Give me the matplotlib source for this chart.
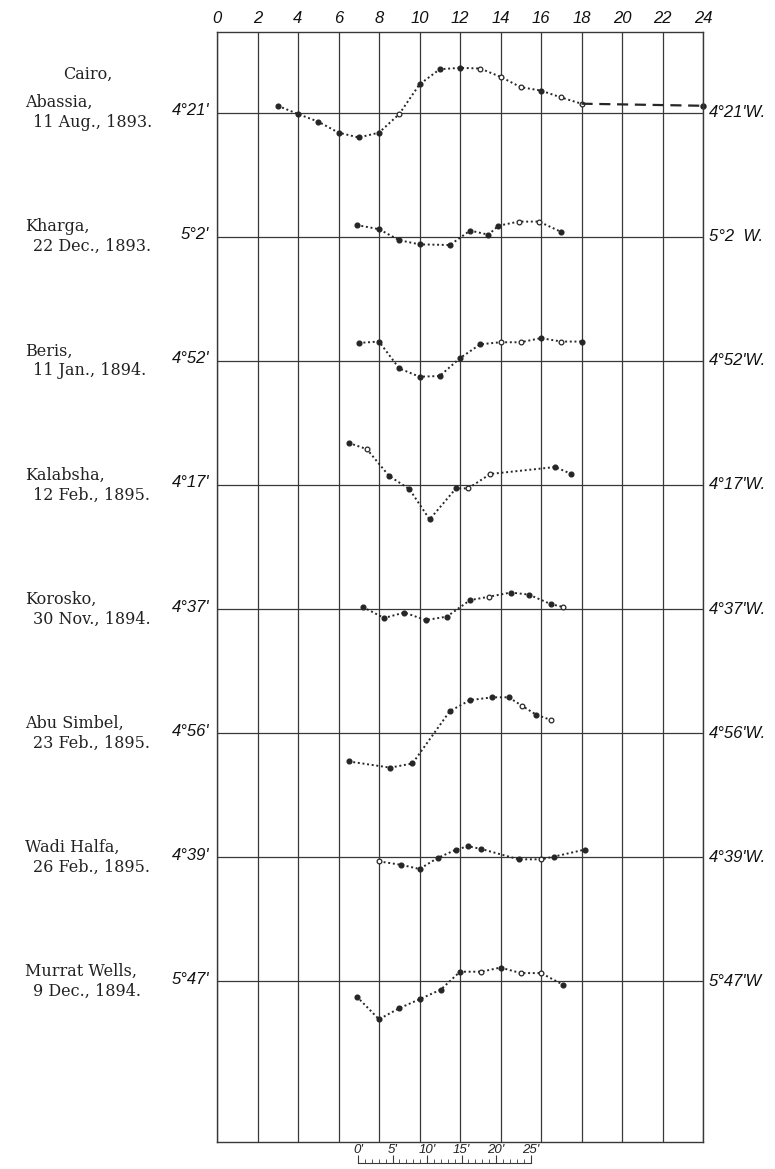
import numpy as np
import matplotlib.pyplot as plt

# hours of the day along the top
HOURS = list(range(0, 25, 2))

# stations, top to bottom
NAMES = ["Abassia,", "Kharga,", "Beris,", "Kalabsha,", "Korosko,",
         "Abu Simbel,", "Wadi Halfa,", "Murrat Wells,"]
DATES = ["11 Aug., 1893.", "22 Dec., 1893.", "11 Jan., 1894.", "12 Feb., 1895.",
         "30 Nov., 1894.", "23 Feb., 1895.", "26 Feb., 1895.", "9 Dec., 1894."]
LEFT_LABELS = ["4°21'", "5°2'", "4°52'", "4°17'", "4°37'", "4°56'", "4°39'", "5°47'"]
RIGHT_LABELS = ["4°21'W.", "5°2  W.", "4°52'W.", "4°17'W.", "4°37'W.",
                "4°56'W.", "4°39'W.", "5°47'W"]

# declination departures from the mean (minutes of arc) at each hour
CAIRO_H = [3, 4, 5, 6, 7, 8, 9, 10, 11, 12, 13, 14, 15, 16, 17, 18]
CAIRO_D = [1.0, -0.2, -1.3, -2.9, -3.6, -2.9, -0.2, 4.1, 6.3, 6.5, 6.4, 5.2, 3.7, 3.2, 2.2, 1.3]
CAIRO_OPEN = [9, 13, 14, 15, 17, 18]
CAIRO_NIGHT_H = [18, 24]
CAIRO_NIGHT_D = [1.3, 1.0]

KHARGA_H = [6.9, 8, 9, 10, 11.5, 12.5, 13.4, 13.9, 14.9, 15.9, 17]
KHARGA_D = [1.7, 1.1, -0.5, -1.1, -1.2, 0.9, 0.3, 1.6, 2.2, 2.2, 0.7]
KHARGA_OPEN = [14.9, 15.9]

BERIS_H = [7, 8, 9, 10, 11, 12, 13, 14, 15, 16, 17, 18]
BERIS_D = [2.6, 2.8, -1.1, -2.3, -2.2, 0.4, 2.4, 2.7, 2.7, 3.3, 2.8, 2.8]
BERIS_OPEN = [14, 15, 17]

KALABSHA_H = [6.5, 7.4, 8.5, 9.5, 10.5, 11.8, 12.4, 13.5, 16.7, 17.5]
KALABSHA_D = [6.1, 5.2, 1.3, -0.6, -5.0, -0.5, -0.5, 1.6, 2.6, 1.6]
KALABSHA_OPEN = [7.4, 12.4, 13.5]

KOROSKO_H = [7.2, 8.25, 9.25, 10.3, 11.35, 12.5, 13.45, 14.5, 15.4, 16.5, 17.1]
KOROSKO_D = [0.3, -1.3, -0.5, -1.6, -1.1, 1.3, 1.8, 2.4, 2.1, 0.7, 0.3]
KOROSKO_OPEN = [13.45, 17.1]

ABU_H = [6.5, 8.55, 9.65, 11.5, 12.5, 13.6, 14.4, 15.05, 15.75, 16.5]
ABU_D = [-4.1, -5.0, -4.4, 3.2, 4.8, 5.2, 5.2, 4.0, 2.7, 1.9]
ABU_OPEN = [15.05, 16.5]

WADI_H = [8, 9.1, 10, 10.9, 11.8, 12.4, 13.05, 14.9, 16, 16.65, 18.15]
WADI_D = [-0.6, -1.1, -1.7, -0.1, 1.1, 1.6, 1.2, -0.3, -0.3, 0.1, 1.1]
WADI_OPEN = [8, 16]

MURRAT_H = [6.9, 8, 9, 10, 11.05, 12, 13.05, 14, 15, 16, 17.1]
MURRAT_D = [-2.2, -5.5, -3.9, -2.6, -1.2, 1.4, 1.4, 2.0, 1.2, 1.2, -0.5]
MURRAT_OPEN = [13.05, 15, 16]

SERIES = [
    (CAIRO_H, CAIRO_D, CAIRO_OPEN),
    (KHARGA_H, KHARGA_D, KHARGA_OPEN),
    (BERIS_H, BERIS_D, BERIS_OPEN),
    (KALABSHA_H, KALABSHA_D, KALABSHA_OPEN),
    (KOROSKO_H, KOROSKO_D, KOROSKO_OPEN),
    (ABU_H, ABU_D, ABU_OPEN),
    (WADI_H, WADI_D, WADI_OPEN),
    (MURRAT_H, MURRAT_D, MURRAT_OPEN),
]

# scale of minutes drawn under the diagram
SCALE_TICKS = [0, 5, 10, 15, 20, 25]

ROW = 18.0          # minutes of arc between station base lines
W, H = 775, 1169
INK = "#262626"
GRID = "#383838"
ITALIC = dict(family="Liberation Sans", style="italic")
SERIF = dict(family="DejaVu Serif")

fig = plt.figure(figsize=(W / 100, H / 100), dpi=100)
fig.patch.set_facecolor("white")

left, right, top, bottom = 217, 703, 32, 1142
ax = fig.add_axes([left / W, 1 - bottom / H, (right - left) / W, (bottom - top) / H])
ax.set_xlim(0, 24)
ax.set_ylim(-149.3, 11.7)

ax.set_xticks(HOURS)
ax.set_xticklabels([str(h) for h in HOURS], fontsize=12, color="#111", **ITALIC)
ax.xaxis.tick_top()
ax.tick_params(axis="x", length=0, pad=4)
ax.set_yticks([])
ax.grid(axis="x", color=GRID, linewidth=0.9)
for s in ax.spines.values():
    s.set_color(GRID)
    s.set_linewidth(1.0)

dot_style = (0, (1.0, 1.4))

for i, (hrs, dev, opened) in enumerate(SERIES):
    base = -i * ROW
    ax.axhline(base, color=GRID, linewidth=0.9)

    y = base + np.array(dev)
    ax.plot(hrs, y, linestyle=dot_style, color=INK, linewidth=1.4)
    filled = [k for k, h in enumerate(hrs) if h not in opened]
    hollow = [k for k, h in enumerate(hrs) if h in opened]
    ax.plot(np.array(hrs)[filled], y[filled], "o", ms=3.4, color=INK, mec=INK)
    ax.plot(np.array(hrs)[hollow], y[hollow], "o", ms=3.4, mfc="white", mec=INK, mew=0.9)

    # base line values at both ends
    ax.annotate(LEFT_LABELS[i], xy=(0, base), xycoords=("axes fraction", "data"),
                xytext=(-8, 2), textcoords="offset pixels", ha="right", va="center",
                fontsize=12, color="#111", **ITALIC)
    ax.annotate(RIGHT_LABELS[i], xy=(1, base), xycoords=("axes fraction", "data"),
                xytext=(6, 0), textcoords="offset pixels", ha="left", va="center",
                fontsize=12, color="#111", **ITALIC)

    # station name and date
    ax.annotate(NAMES[i], xy=(0, base), xycoords=("axes fraction", "data"),
                xytext=(-192, 10), textcoords="offset pixels", ha="left", va="center",
                fontsize=11.5, color="#222", **SERIF)
    ax.annotate(DATES[i], xy=(0, base), xycoords=("axes fraction", "data"),
                xytext=(-184, -10), textcoords="offset pixels", ha="left", va="center",
                fontsize=11.5, color="#222", **SERIF)

ax.annotate("Cairo,", xy=(0, 0), xycoords=("axes fraction", "data"),
            xytext=(-129, 38), textcoords="offset pixels", ha="center", va="center",
            fontsize=11.5, color="#222", **SERIF)

# night readings at Cairo joined by a dashed line
ax.plot(CAIRO_NIGHT_H, CAIRO_NIGHT_D, linestyle=(0, (5, 3)), color=INK, linewidth=1.6)
ax.plot(CAIRO_NIGHT_H[-1:], CAIRO_NIGHT_D[-1:], "o", ms=3.6, color=INK, clip_on=False)

# scale of minutes
px_per_min = 6.9
sx = fig.add_axes([358 / W, 1 - 1163 / H, 25 * px_per_min / W, 6 / H])
sx.set_xlim(0, 25)
sx.set_ylim(0, 1)
sx.set_yticks([])
for k in ["left", "right", "top"]:
    sx.spines[k].set_visible(False)
sx.spines["bottom"].set_color(GRID)
sx.spines["bottom"].set_linewidth(0.8)
sx.set_xticks(SCALE_TICKS)
sx.set_xticks(range(0, 26), minor=True)
sx.set_xticklabels([f"{t}'" for t in SCALE_TICKS], fontsize=9.5, color="#222", **ITALIC)
sx.tick_params(axis="x", which="both", direction="in", bottom=True, top=False,
               labelbottom=False, labeltop=True, color=GRID, pad=1)
sx.tick_params(axis="x", which="major", length=6)
sx.tick_params(axis="x", which="minor", length=3)
sx.patch.set_alpha(0)

fig.savefig("out.png", dpi=100, facecolor="white")
